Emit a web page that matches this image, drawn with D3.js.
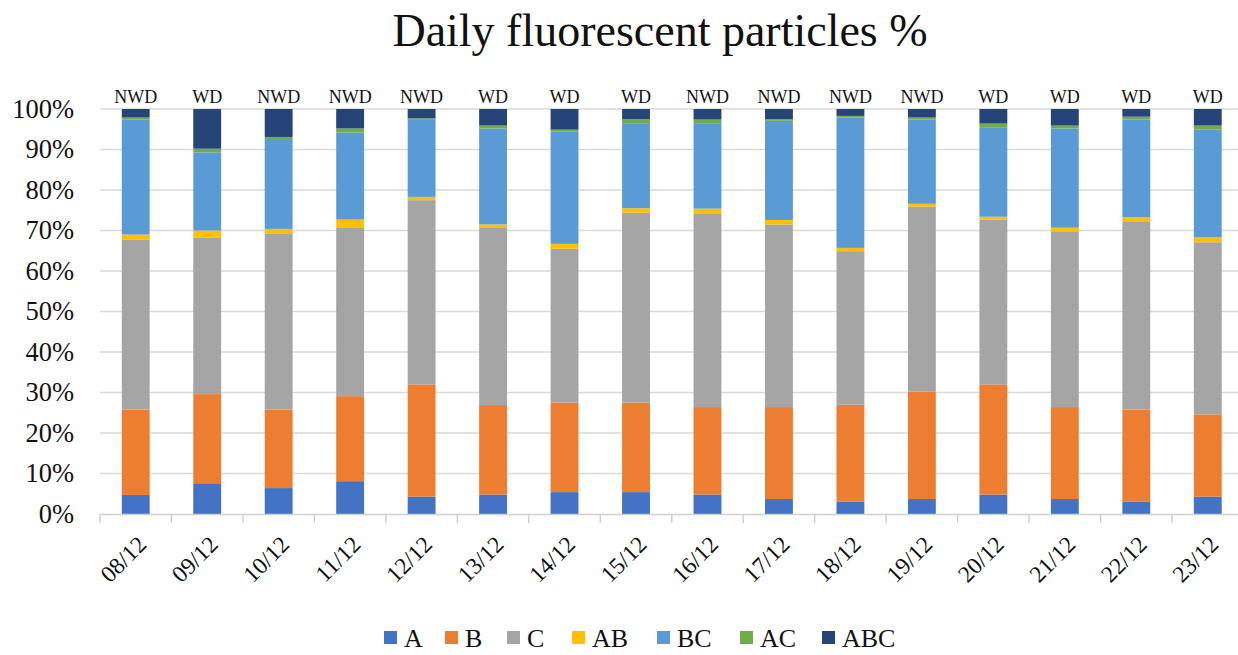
<!DOCTYPE html>
<html>
<head>
<meta charset="utf-8">
<script src="https://cdn.jsdelivr.net/npm/d3@7"></script>
<style>
  html, body { margin: 0; padding: 0; background: #fff; }
  svg { display: block; }
  text { font-family: "Liberation Serif", "Times New Roman", serif; fill: #111; }
</style>
</head>
<body>
<svg id="chart" width="1238" height="655"></svg>
<script>
// Sampling days
const days = ["08/12","09/12","10/12","11/12","12/12","13/12","14/12","15/12",
              "16/12","17/12","18/12","19/12","20/12","21/12","22/12","23/12"];
// Working day / non-working day flags
const dayType = ["NWD","WD","NWD","NWD","NWD","WD","WD","WD",
                 "NWD","NWD","NWD","NWD","WD","WD","WD","WD"];

// Share of each particle class per day (%)
const seriesNames = ["A","B","C","AB","BC","AC","ABC"];
const A   = [4.7, 7.6, 6.4, 8.1, 4.3, 4.8, 5.4, 5.4, 4.8, 3.7, 3.1, 3.7, 4.8, 3.7, 3.1, 4.3];
const B   = [21.1,22.0,19.4,21.0,27.7,22.1,22.1,22.1,21.6,22.7,23.9,26.5,27.2,22.7,22.7,20.3];
const C   = [42.0,38.7,43.5,41.7,45.5,43.9,38.0,46.9,47.7,45.1,37.9,45.7,40.7,43.4,46.3,42.5];
const AB  = [1.2, 1.7, 1.1, 1.9, 0.8, 0.7, 1.2, 1.1, 1.3, 1.1, 0.8, 0.7, 0.7, 0.9, 1.2, 1.2];
const BC  = [28.4,19.3,22.2,21.5,19.2,23.7,27.7,21.0,21.1,24.5,32.2,20.8,22.1,24.5,24.1,26.6];
const AC  = [0.5, 0.9, 0.5, 1.0, 0.2, 0.7, 0.5, 1.0, 0.9, 0.4, 0.4, 0.5, 0.9, 0.7, 0.7, 1.0];
const ABC = [2.1, 9.8, 6.9, 4.8, 2.3, 4.1, 5.1, 2.5, 2.6, 2.5, 1.7, 2.1, 3.6, 4.1, 1.9, 4.1];

const yTicks = [0,10,20,30,40,50,60,70,80,90,100];
const colors = ["#4472C4","#ED7D31","#A5A5A5","#FFC000","#5B9BD5","#70AD47","#264478"];

const seriesValues = [A, B, C, AB, BC, AC, ABC];
const rows = days.map((d, i) => {
  const r = { day: d };
  seriesNames.forEach((s, k) => r[s] = seriesValues[k][i]);
  return r;
});

const svg = d3.select("#chart");
const plotLeft = 100, plotRight = 1243.5, plotTop = 109, plotBottom = 514;

const x = d3.scaleBand().domain(days).range([plotLeft, plotRight])
  .paddingInner(0.61).paddingOuter(0.305);
const y = d3.scaleLinear().domain([0, 100]).range([plotBottom, plotTop]);
const color = d3.scaleOrdinal().domain(seriesNames).range(colors);

// Title
svg.append("text")
  .attr("x", 660).attr("y", 46)
  .attr("text-anchor", "middle")
  .style("font-size", "46px")
  .text("Daily fluorescent particles %");

// Horizontal gridlines
svg.append("g").selectAll("line")
  .data(yTicks.filter(t => t > 0))
  .join("line")
  .attr("x1", plotLeft).attr("x2", 1238)
  .attr("y1", d => y(d)).attr("y2", d => y(d))
  .attr("stroke", "#D9D9D9").attr("stroke-width", 1.5);

// Y axis labels
const yAxis = d3.axisLeft(y).tickValues(yTicks).tickFormat(d => d + "%").tickSize(0).tickPadding(0);
const gy = svg.append("g").attr("transform", "translate(74,0)").call(yAxis);
gy.select(".domain").remove();
gy.selectAll("text").style("font-size", "26.5px")
  .style("font-family", '"Liberation Serif", serif').attr("fill", "#111");

// Stacked bars
const stack = d3.stack().keys(seriesNames)(rows);
svg.append("g").selectAll("g")
  .data(stack)
  .join("g")
  .attr("fill", d => color(d.key))
  .selectAll("rect")
  .data(d => d)
  .join("rect")
  .attr("x", d => x(d.data.day))
  .attr("width", x.bandwidth())
  .attr("y", d => y(d[1]))
  .attr("height", d => y(d[0]) - y(d[1]));

// X axis baseline and category-boundary ticks
svg.append("line")
  .attr("x1", plotLeft).attr("x2", 1238)
  .attr("y1", plotBottom + 0.5).attr("y2", plotBottom + 0.5)
  .attr("stroke", "#D0D0D0").attr("stroke-width", 1.5);
const step = x.step();
svg.append("g").selectAll("line")
  .data(d3.range(days.length + 1))
  .join("line")
  .attr("x1", i => plotLeft + i * step).attr("x2", i => plotLeft + i * step)
  .attr("y1", plotBottom).attr("y2", plotBottom + 9)
  .attr("stroke", "#D0D0D0").attr("stroke-width", 1.5);

// Rotated day labels
svg.append("g").selectAll("text")
  .data(days)
  .join("text")
  .attr("transform", d => `translate(${x(d) + x.bandwidth() / 2 + 12},546) rotate(-45)`)
  .attr("text-anchor", "end")
  .style("font-size", "23.5px")
  .text(d => d);

// Day type labels above each bar
svg.append("g").selectAll("text")
  .data(days)
  .join("text")
  .attr("x", d => x(d) + x.bandwidth() / 2)
  .attr("y", 103)
  .attr("text-anchor", "middle")
  .style("font-size", "18px")
  .text((d, i) => dayType[i]);

// Legend
const legendX = [384, 445, 507, 572, 657, 740, 822];
const lg = svg.append("g").selectAll("g")
  .data(seriesNames)
  .join("g")
  .attr("transform", (d, i) => `translate(${legendX[i]},0)`);
lg.append("rect")
  .attr("x", 0).attr("y", 631).attr("width", 13).attr("height", 13)
  .attr("fill", d => color(d));
lg.append("text")
  .attr("x", 20).attr("y", 647)
  .style("font-size", "26px")
  .text(d => d);
</script>
</body>
</html>
